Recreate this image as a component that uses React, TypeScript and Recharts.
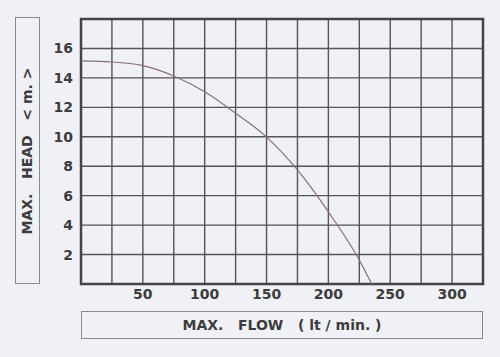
import { LineChart, Line, XAxis, YAxis, CartesianGrid, ReferenceArea } from "recharts";

const flow = [0, 25, 50, 75, 100, 125, 150, 175, 200, 225, 235];
const head = [15.15, 15.08, 14.83, 14.13, 13.06, 11.6, 9.98, 7.75, 4.9, 1.63, 0];
const flowTicks = [0, 25, 50, 75, 100, 125, 150, 175, 200, 225, 250, 275, 300, 325];
const headTicks = [0, 2, 4, 6, 8, 10, 12, 14, 16, 18];

const data = flow.map((f, i) => ({ flow: f, head: head[i] }));

const font = "'DejaVu Sans', Verdana, sans-serif";
const ink = "#3c3c3c";
const tickStyle = { fill: ink, fontSize: 14, fontWeight: 700, fontFamily: font };

export default function App() {
  return (
    <div
      style={{
        position: "absolute",
        left: 0,
        top: 0,
        width: 500,
        height: 357,
        background: "#f0f0f7",
      }}
    >
      <LineChart
        width={500}
        height={357}
        data={data}
        margin={{ top: 19, right: 17, left: 21, bottom: 43 }}
      >
        <CartesianGrid stroke="#555" strokeWidth={1.4} />
        <XAxis
          dataKey="flow"
          type="number"
          domain={[0, 325]}
          ticks={flowTicks}
          height={30}
          tickLine={false}
          axisLine={false}
          tickSize={4}
          tickMargin={1}
          tick={tickStyle}
          interval={0}
          tickFormatter={(v: number) => (v > 0 && v < 325 && v % 50 === 0 ? String(v) : "")}
        />
        <YAxis
          type="number"
          domain={[0, 18]}
          ticks={headTicks}
          width={60}
          tickLine={false}
          axisLine={false}
          tick={tickStyle}
          interval={0}
          tickFormatter={(v: number) => (v > 0 && v < 18 ? String(v) : "")}
        />
        <ReferenceArea
          x1={0}
          x2={325}
          y1={0}
          y2={18}
          fill="none"
          fillOpacity={0}
          stroke="#444"
          strokeWidth={2.5}
          ifOverflow="visible"
        />
        <Line
          dataKey="head"
          type="monotone"
          stroke="#8a6c7c"
          strokeWidth={1.2}
          dot={false}
          isAnimationActive={false}
        />
      </LineChart>

      <div
        style={{
          position: "absolute",
          left: 15,
          top: 17,
          width: 25,
          height: 267,
          border: "1px solid #8a8a8a",
          boxSizing: "border-box",
          display: "flex",
          alignItems: "center",
          justifyContent: "center",
        }}
      >
        <div
          style={{
            transform: "rotate(-90deg)",
            whiteSpace: "pre",
            fontFamily: font,
            fontWeight: 700,
            fontSize: 14,
            color: ink,
          }}
        >
          {"MAX.   HEAD   < m. >"}
        </div>
      </div>

      <div
        style={{
          position: "absolute",
          left: 81,
          top: 311,
          width: 402,
          height: 28,
          border: "1px solid #8a8a8a",
          boxSizing: "border-box",
          display: "flex",
          alignItems: "center",
          justifyContent: "center",
          whiteSpace: "pre",
          fontFamily: font,
          fontWeight: 700,
          fontSize: 14,
          color: ink,
        }}
      >
        {"MAX.   FLOW   ( lt / min. )"}
      </div>
    </div>
  );
}
